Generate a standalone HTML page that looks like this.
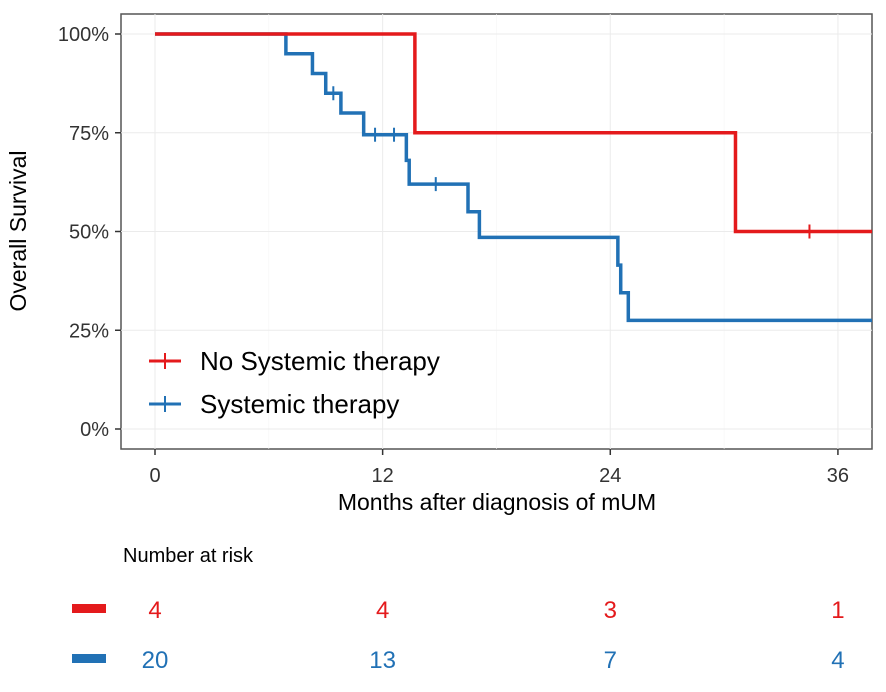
<!DOCTYPE html>
<html><head><meta charset="utf-8"><style>
body{margin:0;background:#fff;width:886px;height:687px;overflow:hidden;font-family:"Liberation Sans",sans-serif}
</style></head><body>
<svg id="chart" width="886" height="687" xmlns="http://www.w3.org/2000/svg">
<rect x="121" y="14" width="751" height="435" fill="#fff" stroke="#555" stroke-width="1.5"/>
<g id="grid"></g>
<g id="series"></g>
<g id="axes"></g>
<text x="26" y="231" transform="rotate(-90 26 231)" text-anchor="middle" font-size="23" fill="#000">Overall Survival</text>
<text x="497" y="510" text-anchor="middle" font-size="23" fill="#000">Months after diagnosis of mUM</text>
<g>
<line x1="149" y1="361" x2="181" y2="361" stroke="#e41a1c" stroke-width="3"/>
<line x1="165" y1="353" x2="165" y2="369" stroke="#e41a1c" stroke-width="2"/>
<text x="200" y="370" font-size="26" fill="#000">No Systemic therapy</text>
<line x1="149" y1="404" x2="181" y2="404" stroke="#2171b5" stroke-width="3"/>
<line x1="165" y1="396" x2="165" y2="412" stroke="#2171b5" stroke-width="2"/>
<text x="200" y="413" font-size="26" fill="#000">Systemic therapy</text>
</g>
<text x="123" y="562" font-size="20" fill="#000">Number at risk</text>
<rect x="72" y="604" width="34" height="9" fill="#e41a1c"/>
<rect x="72" y="654" width="34" height="9" fill="#2171b5"/>
<g id="risk"></g>
</svg>
<script>
const xTicks=[0,12,24,36];
const yTicks=[0,0.25,0.5,0.75,1];
const yTickLabels=["0%","25%","50%","75%","100%"];
const noSysTimes=[0,13.7,30.6,37.8];
const noSysSurv=[1,0.75,0.5,0.5];
const noSysCensor=[34.5];
const sysTimes=[0,6.9,8.3,9.0,9.8,11.0,13.25,13.4,16.5,17.1,24.4,24.55,24.95,37.8];
const sysSurv=[1,0.95,0.90,0.85,0.80,0.745,0.68,0.62,0.55,0.485,0.415,0.345,0.275,0.275];
const sysCensor=[9.4,11.6,12.6,14.8];
const riskNoSys=[4,4,3,1];
const riskSys=[20,13,7,4];
const NS="http://www.w3.org/2000/svg";
const X=t=>155+t*18.97, Y=s=>429-s*395;
function mk(tag,attrs,parent){const e=document.createElementNS(NS,tag);for(const k in attrs)e.setAttribute(k,attrs[k]);document.getElementById(parent).appendChild(e);return e;}
xTicks.forEach((t,i)=>{
 const g=mk('line',{x1:X(t),x2:X(t),y1:14,y2:449,stroke:'#ebebeb','stroke-width':1},'grid');
 
 
 if(i<xTicks.length-1){const m=mk('line',{x1:X(t+6),x2:X(t+6),y1:14,y2:449,stroke:'#f5f5f5','stroke-width':0.6},'grid');
 
 }
 const tk=mk('line',{x1:X(t),x2:X(t),y1:449,y2:455,stroke:'#333','stroke-width':1.5},'axes');
 
 
 const l=mk('text',{x:X(t),y:482,'text-anchor':'middle','font-size':20,fill:'#333'},'axes');
 l.textContent=t;
 
 
});
yTicks.forEach((s,i)=>{
 const g=mk('line',{x1:121,x2:872,y1:Y(s),y2:Y(s),stroke:'#ebebeb','stroke-width':1},'grid');
 
 
 const tk=mk('line',{x1:115,x2:121,y1:Y(s),y2:Y(s),stroke:'#333','stroke-width':1.5},'axes');
 
 
 const l=mk('text',{x:109,y:Y(s)+7,'text-anchor':'end','font-size':20,fill:'#333'},'axes');
 l.textContent=yTickLabels[i];
 
 
});
function stepPath(ts,ss){let d='M'+X(ts[0])+','+Y(ss[0]);for(let i=1;i<ts.length;i++){d+=' H'+X(ts[i])+' V'+Y(ss[i]);}return d;}
function survAt(ts,ss,t){let s=ss[0];for(let i=0;i<ts.length;i++){if(ts[i]<=t)s=ss[i];}return s;}
function drawSeries(ts,ss,cens,color,name){
 const p=mk('path',{d:stepPath(ts,ss),fill:'none',stroke:color,'stroke-width':3.5},'series');
 
 
 cens.forEach(c=>{const y=Y(survAt(ts,ss,c));
  const m=mk('line',{x1:X(c),x2:X(c),y1:y-7,y2:y+7,stroke:color,'stroke-width':2},'series');
  
  });
}
drawSeries(sysTimes,sysSurv,sysCensor,'#2171b5','systemic');
drawSeries(noSysTimes,noSysSurv,noSysCensor,'#e41a1c','no-systemic');
function drawRisk(vals,y,color,name){vals.forEach((v,i)=>{
 const t=mk('text',{x:X(xTicks[i]),y:y,'text-anchor':'middle','font-size':24,fill:color},'risk');
 t.textContent=v;
 
 });}
drawRisk(riskNoSys,618,'#e41a1c','no-systemic');
drawRisk(riskSys,668,'#2171b5','systemic');
</script>
</body></html>
